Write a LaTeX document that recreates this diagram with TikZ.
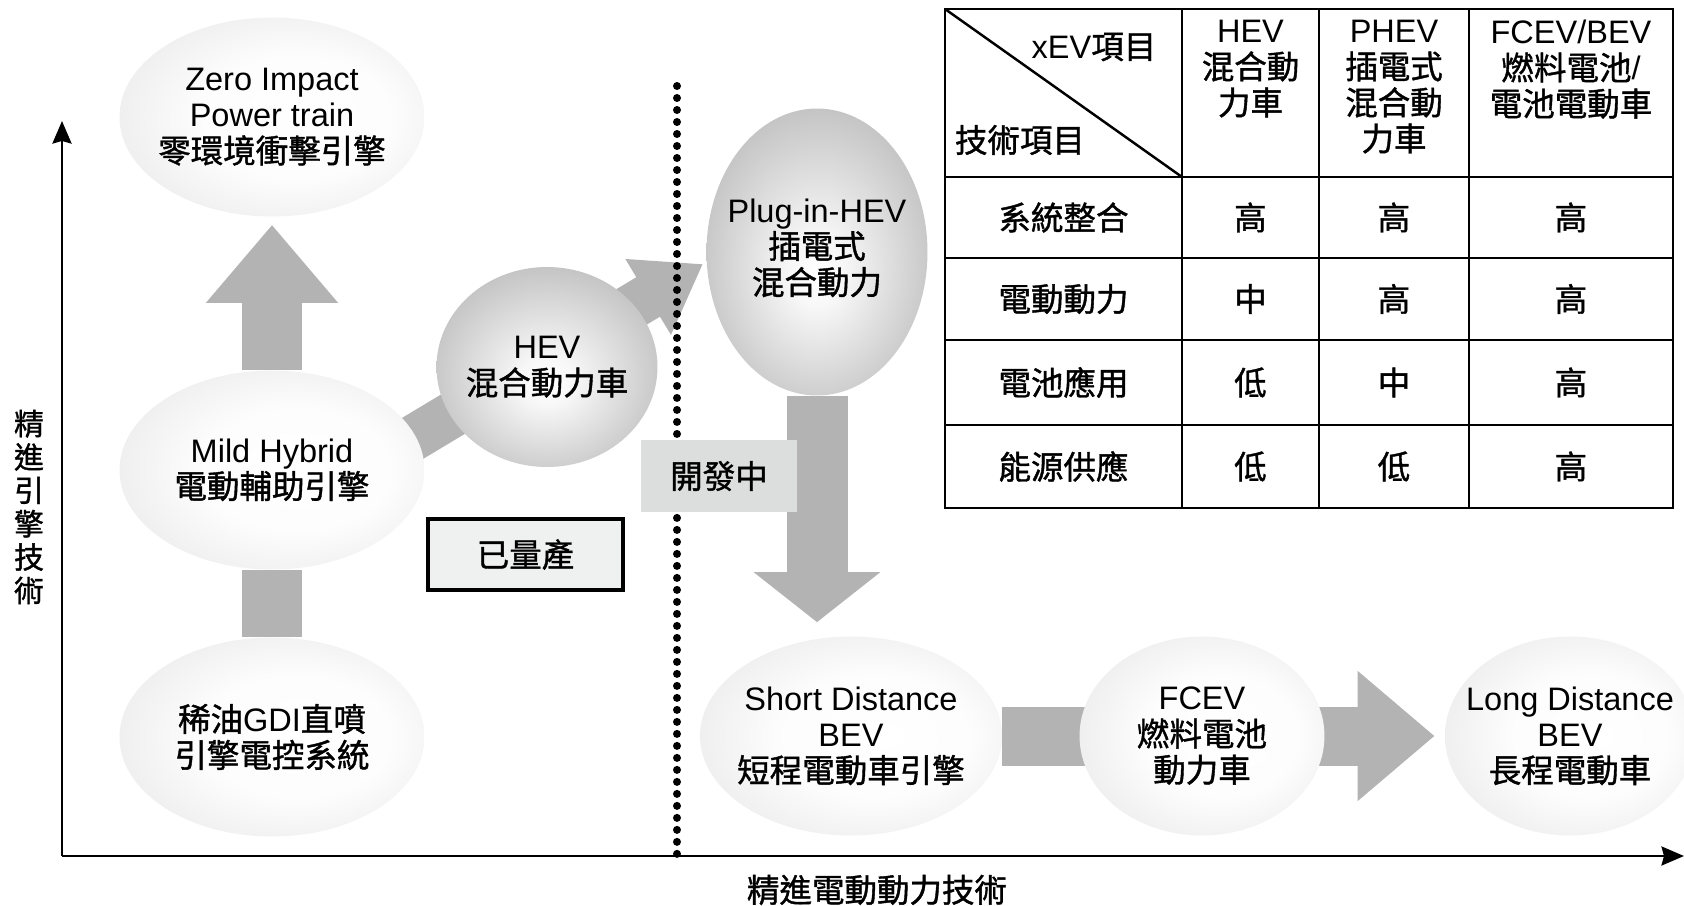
\documentclass[tikz,border=0pt]{standalone}
\usepackage{fontspec}
\setmainfont{Liberation Sans}
\newfontfamily\zhfont{Noto Sans CJK TC}[FakeBold=1.2]
\newcommand{\zh}[1]{{\zhfont #1}}
\usetikzlibrary{shapes.geometric,arrows.meta}
\pgfdeclareradialshading{lightshade}{\pgfpoint{6bp}{0bp}}{rgb(0bp)=(1,1,1); rgb(16bp)=(0.99,0.99,0.99); rgb(50bp)=(0.84,0.84,0.84)}
\pgfdeclareradialshading{darkshade}{\pgfpoint{0bp}{-4bp}}{rgb(0bp)=(1,1,1); rgb(6bp)=(0.97,0.97,0.97); rgb(28bp)=(0.76,0.76,0.76); rgb(50bp)=(0.53,0.53,0.53)}
\definecolor{arrowgray}{HTML}{B3B3B3}
\definecolor{devgray}{HTML}{DCDDDD}
\definecolor{prodgray}{HTML}{EFF0F0}
\pgfdeclarelayer{bg}
\pgfsetlayers{bg,main}
\begin{document}
\begin{tikzpicture}[x=0.02cm, y=-0.02cm,
  every node/.style={font=\fontsize{18.5}{20.5}\selectfont, align=center, inner sep=0pt},
  lightell/.style={ellipse, shade, shading=lightshade, minimum height=3.98cm},
  darkell/.style={ellipse, shade, shading=darkshade},
  blockline/.style={color=arrowgray, line cap=butt},
  axisline/.style={line width=1.5pt, -{Stealth[length=0.45cm, width=0.38cm, inset=0.05cm]}},
  gridline/.style={line width=1.4pt},
]
\useasboundingbox (0,0) rectangle (1684,906);

% ellipses (shapes) and their texts
\node[lightell, minimum width=6.1cm] (zero) at (272,117) {};
\node (zerot) at (zero.center) {Zero Impact\\Power train\\\zh{零環境衝擊引擎}};
\node[lightell, minimum width=6.1cm] (mild) at (272,470) {};
\node (mildt) at (mild.center) {Mild Hybrid\\\zh{電動輔助引擎}};
\node[lightell, minimum width=6.1cm] (gdi) at (272,737) {};
\node (gdit) at (gdi.center) {\zh{稀油}GDI\zh{直噴}\\\zh{引擎電控系統}};
\node[darkell, minimum width=4.42cm, minimum height=4.0cm] (hev) at (547,367) {};
\node (hevt) at (hev.center) {HEV\\\zh{混合動力車}};
\node[darkell, minimum width=4.42cm, minimum height=5.74cm] (phev) at (817,252) {};
\node (phevt) at ([yshift=0.08cm]phev.center) {Plug-in-HEV\\\zh{插電式}\\\zh{混合動力}};
\node[lightell, minimum width=6.04cm] (short) at (851,736) {};
\node (shortt) at (short.center) {Short Distance\\BEV\\\zh{短程電動車引擎}};
\node[lightell, minimum width=4.9cm] (fcev) at (1202,736) {};
\node (fcevt) at (fcev.center) {FCEV\\\zh{燃料電池}\\\zh{動力車}};
\node[lightell, minimum width=5.0cm] (long) at (1570,736) {};
\node (longt) at (long.center) {Long Distance\\BEV\\\zh{長程電動車}};

% dotted divider
\coordinate (dtop) at (677,86);
\coordinate (dbot) at (677,856);
\draw[line width=0.16cm, line cap=round, dash pattern=on 0pt off 0.24cm] (dtop) -- (dbot);

% boxes
\node[fill=devgray, minimum width=3.12cm, minimum height=1.44cm] (dev) at (719,476) {\zh{開發中}};
\node[draw, line width=2.3pt, fill=prodgray, minimum width=3.9cm, minimum height=1.42cm] (prod) at (525.5,554.5) {\zh{已量產}};

% block arrows (behind the ellipses)
\coordinate (dstart) at (340,482);
\coordinate (dtip) at (703,264);
\begin{pgfonlayer}{bg}
\fill[white] (0,0) rectangle (1684,906);
\draw[blockline, line width=1.22cm, -{Triangle[length=1.56cm, width=2.54cm]}, shorten >=0.16cm] (mild) -- (zero.south);
\draw[blockline, line width=1.22cm] (gdi) -- (mild);
\draw[blockline, line width=0.92cm, -{Triangle[length=1.28cm, width=1.68cm]}] (dstart) -- (dtip);
\draw[blockline, line width=1.22cm, -{Triangle[length=1.0cm, width=2.48cm]}, shorten >=0.28cm] (phev) -- (phev |- short.north);
\draw[blockline, line width=1.18cm, -{Triangle[length=1.54cm, width=2.5cm]}, shorten >=0.2cm] (short) -- (long.west);
\end{pgfonlayer}

% axes
\coordinate (origin) at (62,856);
\coordinate (ytip) at (62,121);
\coordinate (xtip) at (1684,856);
\draw[axisline] (origin) -- (ytip);
\draw[axisline] (origin) -- (xtip);
\node (xlabel) at (877,890) {\zh{精進電動動力技術}};
\node[font=\zhfont\fontsize{17}{19}\selectfont] (ylabel) at (29,507) {精\\進\\引\\擎\\技\\術};

% table
\draw[gridline] (945,9) rectangle (1673,508);
\foreach \x in {1182,1319,1469} \draw[gridline] (\x,9) -- (\x,508);
\foreach \y in {177,258,340,425} \draw[gridline] (945,\y) -- (1673,\y);
\draw[gridline] (945,9) -- (1182,177);
\node (xev) at (1094,47) {xEV\zh{項目}};
\node (tech) at (1020,140) {\zh{技術項目}};
\node[anchor=north] (hhev) at (1250.5,20) {HEV\\\zh{混合動}\\\zh{力車}};
\node[anchor=north] (hphev) at (1394,20) {PHEV\\\zh{插電式}\\\zh{混合動}\\\zh{力車}};
\node[anchor=north] (hfc) at (1571,20) {FCEV/BEV\\\zh{燃料電池}/\\\zh{電池電動車}};
\foreach \yy/\lab/\va/\vb/\vc [count=\i] in {217.5/系統整合/高/高/高, 299/電動動力/中/高/高, 382.5/電池應用/低/中/高, 466.5/能源供應/低/低/高} {
  \node (r\i) at (1063.5,\yy) {\zh{\lab}};
  \node (r\i a) at (1250.5,\yy) {\zh{\va}};
  \node (r\i b) at (1394,\yy) {\zh{\vb}};
  \node (r\i c) at (1571,\yy) {\zh{\vc}};
}
\end{tikzpicture}
\end{document}
